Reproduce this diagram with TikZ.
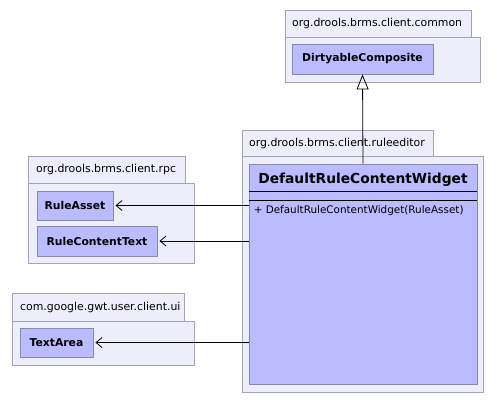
\documentclass[tikz,border=0pt]{standalone}
\usepackage{fontspec}
\setmainfont{DejaVu Sans}
\usepackage{tikz}
\usetikzlibrary{arrows.meta,positioning,calc}
\definecolor{umlpkgfill}{HTML}{EEEEFA}
\definecolor{umlpkgline}{HTML}{A4A4B4}
\definecolor{umlclsfill}{HTML}{BBBBFF}
\definecolor{umlclsline}{HTML}{8888AA}

\tikzset{
  pkg/.style={draw=umlpkgline, fill=umlpkgfill, line width=0.9pt},
  pkglabel/.style={anchor=west, inner sep=0pt, font=\fontsize{10.9}{13}\selectfont},
  cls/.style={draw=umlclsline, fill=umlclsfill, line width=0.9pt, inner sep=0pt,
    font=\fontsize{10.8}{12}\selectfont\bfseries},
  dep/.style={-{Straight Barb[length=6pt,width=10pt]}, shorten >=2pt, line width=0.8pt},
  inherit/.style={-{Triangle[open,length=15pt,width=12pt]}, line width=0.8pt}
}

\begin{document}
\begin{tikzpicture}[x=1pt, y=-1pt]
    \useasboundingbox (0,0) rectangle (497,403);
    % Package org.drools.brms.client.common
    \draw[pkg] (285,10) rectangle (471,37);
    \draw[pkg] (285,37) rectangle (480,82);
    \node[pkglabel] (commonlbl) at (292,23.5) {org.drools.brms.client.common};
    \node[cls, minimum width=141pt, minimum height=30pt] (dirty) at (362.5,59) {DirtyableComposite};
    % Package org.drools.brms.client.ruleeditor
    \draw[pkg] (242,130) rectangle (433,156);
    \draw[pkg] (242,156) rectangle (483,392);
    \node[pkglabel] (editorlbl) at (249,143) {org.drools.brms.client.ruleeditor};
    \node[cls, minimum width=228pt, minimum height=220pt] (widget) at (363,274) {};
    \node[font=\fontsize{13.8}{15}\selectfont\bfseries] (widgettitle) at ($(widget.north)+(0,16)$) {DefaultRuleContentWidget};
    \draw[line width=0.8pt] ($(widget.north west)+(0,28)$) -- ($(widget.north east)+(0,28)$);
    \draw[line width=0.8pt] ($(widget.north west)+(0,37)$) -- ($(widget.north east)+(0,37)$);
    \node[anchor=west, inner sep=0pt, font=\fontsize{10.4}{12}\selectfont] (widgetop) at ($(widget.north west)+(5,47)$) {+ DefaultRuleContentWidget(RuleAsset)};
    % Package org.drools.brms.client.rpc
    \draw[pkg] (28,156) rectangle (185,183);
    \draw[pkg] (28,183) rectangle (194,263);
    \node[pkglabel] (rpclbl) at (36,169.5) {org.drools.brms.client.rpc};
    \node[cls, minimum width=76pt, minimum height=29pt] (asset) at (75,205.5) {RuleAsset};
    \node[cls, minimum width=120pt, minimum height=30pt] (ruletext) at (97,241) {RuleContentText};
    % Package com.google.gwt.user.client.ui
    \draw[pkg] (12,293) rectangle (184,321);
    \draw[pkg] (12,321) rectangle (194,365);
    \node[pkglabel] (uilbl) at (20,307) {com.google.gwt.user.client.ui};
    \node[cls, minimum width=73pt, minimum height=29pt] (textarea) at (56.5,342.5) {TextArea};
    % Relations
    \draw[inherit] (widget.north) -- (dirty.south);
    \draw[dep] (widget.west |- asset) -- (asset.east);
    \draw[dep] (widget.west |- ruletext) -- (ruletext.east);
    \draw[dep] (widget.west |- textarea) -- (textarea.east);
\end{tikzpicture}
\end{document}
